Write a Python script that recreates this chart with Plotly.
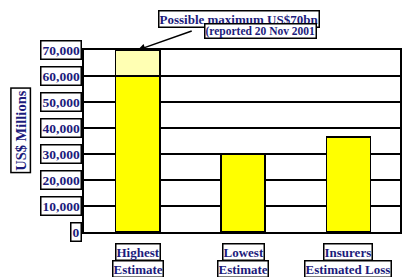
import plotly.graph_objects as go

categories = ["Highest<br>Estimate", "Lowest<br>Estimate", "Insurers<br>Estimated Loss"]
base_values = [60000, 30000, 36500]
extra_values = [10000, 0, 0]
tick_vals = [0, 10000, 20000, 30000, 40000, 50000, 60000, 70000]
tick_labels = ["0", "10,000", "20,000", "30,000", "40,000", "50,000", "60,000", "70,000"]
y_title = "US$ Millions"
note_lines = ["Possible maximum US$70bn", "(reported 20 Nov 2001"]

NAVY = "#1c1c7c"
FONT = dict(family="Liberation Serif, Times New Roman, serif", size=13.5, color=NAVY)

xpos = list(range(len(categories)))
fig = go.Figure()
fig.add_trace(go.Bar(x=xpos, y=base_values, width=0.42,
                     marker=dict(color="#FFFF00", line=dict(color="black", width=1.5))))
fig.add_trace(go.Bar(x=xpos, y=extra_values, width=0.42,
                     marker=dict(color="#FFFFB3", line=dict(color="black", width=1.5))))

annotations = []
for v, t in zip(tick_vals, tick_labels):
    annotations.append(dict(x=0, xref="paper", y=v, yref="y", text="<b>%s</b>" % t,
                            xanchor="right", yanchor="middle", xshift=-2, showarrow=False,
                            font=FONT, bordercolor="black", borderwidth=1.5, borderpad=1,
                            bgcolor="white"))
for i, c in enumerate(categories):
    lines = c.split("<br>")
    for j, ln in enumerate(lines):
        annotations.append(dict(x=i, xref="x", y=0, yref="paper", text="<b>%s</b>" % ln,
                                xanchor="center", yanchor="top", yshift=-11 - 17 * j,
                                showarrow=False, font=dict(FONT, size=13), bordercolor="black",
                                borderwidth=1.5, borderpad=0, bgcolor="white"))
annotations.append(dict(x=-0.235, xref="paper", y=0.56, yref="paper", text="<b>%s</b>" % y_title,
                        textangle=-90, showarrow=False, font=dict(FONT, size=14.5),
                        bordercolor="black", borderwidth=1.5, borderpad=1, bgcolor="white"))
annotations.append(dict(x=0, xref="x", y=70000, yref="y", text=" ", showarrow=True,
                        ax=57, ay=-20, arrowhead=2, arrowsize=1, arrowwidth=1.5,
                        arrowcolor="black"))
annotations.append(dict(x=0.492, xref="paper", y=1.22, yref="paper", text="<b>%s</b>" % note_lines[0],
                        showarrow=False, font=dict(FONT, size=13), bordercolor="black",
                        borderwidth=1.5, borderpad=0, bgcolor="white"))
annotations.append(dict(x=0.56, xref="paper", y=1.148, yref="paper", text="<b>%s</b>" % note_lines[1],
                        showarrow=False, font=dict(FONT, size=11.5), bordercolor="black",
                        borderwidth=1.5, borderpad=0, bgcolor="white"))

fig.update_layout(
    width=402, height=277, barmode="stack", showlegend=False,
    margin=dict(l=84, r=0, t=50, b=45),
    plot_bgcolor="white", paper_bgcolor="white",
    annotations=annotations,
    xaxis=dict(range=[-0.51, 2.49], showticklabels=False, showgrid=False, zeroline=False,
               showline=True, linecolor="black", linewidth=2, mirror=True, ticks=""),
    yaxis=dict(range=[0, 70000], tickvals=tick_vals, showticklabels=False, showgrid=True,
               gridcolor="black", gridwidth=1.5, zeroline=False, showline=True,
               linecolor="black", linewidth=2, mirror=True, ticks=""),
)
fig.write_html("out.html", config={"displayModeBar": False},
               post_script="document.body.style.margin='0';document.body.style.padding='0';")
